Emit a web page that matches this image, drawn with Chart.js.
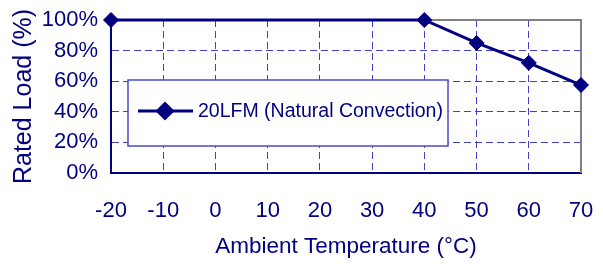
<!DOCTYPE html>
<html lang="en">
<head>
  <meta charset="UTF-8">
  <title>Rated Load vs Ambient Temperature</title>
  <style>
    html, body { margin: 0; padding: 0; background: #fff; }
    #wrap { position: relative; width: 603px; height: 264px; }
  </style>
</head>
<body>
  <div id="wrap"><canvas id="derating"></canvas></div>
  <script src="https://cdn.jsdelivr.net/npm/chart.js"></script>
  <script>
    // data
    const temps = [-20, 40, 50, 60, 70];
    const loadPct = [100, 100, 85, 72, 57.5];
    const seriesLabel = '20LFM (Natural Convection)';
    const xTicks = [-20, -10, 0, 10, 20, 30, 40, 50, 60, 70];
    const yTicks = [0, 20, 40, 60, 80, 100];

    const NAVY = '#000080';
    const GRID = '#4040c8';
    const FONT = 'Arial, "Liberation Sans", sans-serif';

    // grey top/right frame + the boxed legend inside the plot (under the line)
    const framePlugin = {
      id: 'frame',
      beforeDatasetsDraw(chart) {
        const { ctx, chartArea: a } = chart;
        ctx.save();
        ctx.strokeStyle = '#808080';
        ctx.lineWidth = 2;
        ctx.beginPath();
        ctx.moveTo(a.left, a.top);
        ctx.lineTo(a.right, a.top);
        ctx.lineTo(a.right, a.bottom);
        ctx.stroke();

        // legend box
        const bx = a.left + 17, by = a.top + 60, bw = 320, bh = 66;
        ctx.fillStyle = '#fff';
        ctx.fillRect(bx, by, bw, bh);
        ctx.strokeStyle = '#4a4ad0';
        ctx.lineWidth = 1.5;
        ctx.strokeRect(bx, by, bw, bh);

        const cy = by + 31;
        ctx.strokeStyle = NAVY;
        ctx.lineWidth = 3;
        ctx.beginPath();
        ctx.moveTo(bx + 10, cy);
        ctx.lineTo(bx + 65, cy);
        ctx.stroke();
        Chart.helpers.drawPoint(ctx, { pointStyle: 'rectRot', radius: 7.5, borderWidth: 1 }, bx + 37, cy);
        ctx.fillStyle = NAVY;
        ctx.fill();

        ctx.font = '19.5px ' + FONT;
        ctx.textBaseline = 'middle';
        ctx.textAlign = 'left';
        ctx.fillText(chart.data.datasets[0].label, bx + 70, cy + 1);
        ctx.restore();
      }
    };

    new Chart(document.getElementById('derating'), {
      type: 'line',
      data: {
        datasets: [{
          label: seriesLabel,
          data: temps.map((t, i) => ({ x: t, y: loadPct[i] })),
          borderColor: NAVY,
          backgroundColor: NAVY,
          borderWidth: 3,
          pointStyle: 'rectRot',
          pointRadius: 7.5,
          pointBorderWidth: 1,
          clip: false
        }]
      },
      options: {
        responsive: true,
        maintainAspectRatio: false,
        animation: false,
        events: [],
        layout: { padding: { top: 20, right: 22, left: 0, bottom: 0 } },
        plugins: { legend: { display: false }, tooltip: { enabled: false } },
        scales: {
          x: {
            type: 'linear',
            min: -20, max: 70,
            afterBuildTicks: s => { s.ticks = xTicks.map(v => ({ value: v })); },
            afterFit: s => { s.height = 91; s.paddingLeft = 0; s.paddingRight = 0; },
            grid: { color: GRID, lineWidth: 1, drawTicks: false },
            border: { color: NAVY, width: 2, dash: [7, 4] },
            ticks: { color: NAVY, padding: 25, autoSkip: false, maxRotation: 0, font: { family: FONT, size: 22 } },
            title: {
              display: true, text: 'Ambient Temperature (°C)', color: NAVY,
              font: { family: FONT, size: 22.5 }, padding: { top: 0, bottom: 4 }
            }
          },
          y: {
            min: 0, max: 100,
            afterBuildTicks: s => { s.ticks = yTicks.map(v => ({ value: v })); },
            afterFit: s => { s.width = 111; s.paddingTop = 0; s.paddingBottom = 0; },
            grid: { color: GRID, lineWidth: 1, drawTicks: false },
            border: { color: NAVY, width: 2, dash: [7, 4] },
            ticks: { color: NAVY, padding: 13, autoSkip: false, font: { family: FONT, size: 22 }, callback: v => v + '%' },
            title: {
              display: true, text: 'Rated Load (%)', color: NAVY,
              font: { family: FONT, size: 25 }, padding: { top: 9, bottom: 0 }
            }
          }
        }
      },
      plugins: [framePlugin]
    });
  </script>
</body>
</html>
